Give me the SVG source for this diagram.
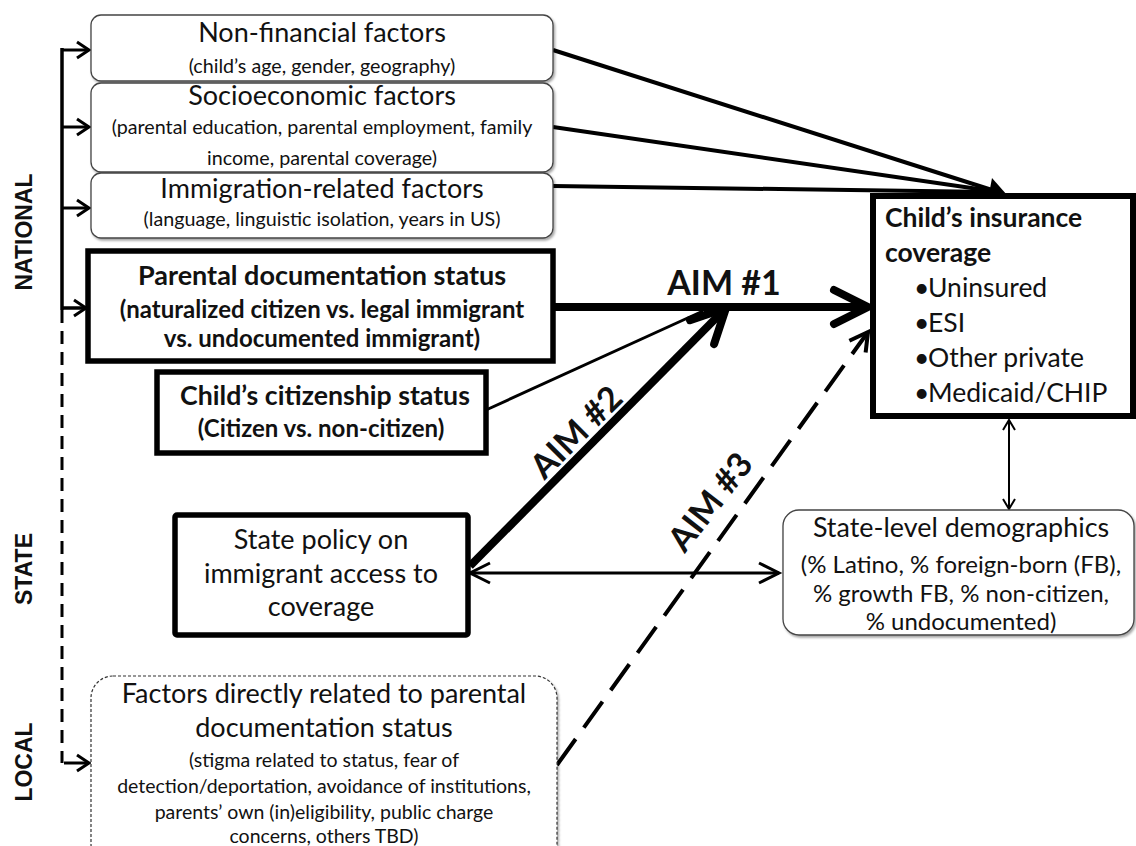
<svg xmlns="http://www.w3.org/2000/svg" width="1136" height="846" viewBox="0 0 1136 846">
<defs>
<style>
text{font-family:Lato,"Liberation Sans",sans-serif;fill:#111}
.t{font-size:27px;text-anchor:middle}
.s{font-size:19.7px;text-anchor:middle}
.b{font-weight:bold}
.lvl{font-family:"Liberation Sans",Arial,sans-serif;font-weight:bold;font-size:23px;text-anchor:middle;dominant-baseline:central}
.aim{font-weight:bold;font-size:34px;text-anchor:middle;dominant-baseline:central}
.soft{fill:#fff;stroke:#444;stroke-width:1.3;filter:url(#sh)}
.hard{fill:#fff;stroke:#000;stroke-width:5.5}
.ln{fill:none;stroke:#000}
.ins{font-size:26.5px}
</style>
<filter id="sh" x="-5%" y="-10%" width="110%" height="130%">
<feDropShadow dx="1.5" dy="2" stdDeviation="1.2" flood-color="#000" flood-opacity="0.35"/>
</filter>
<marker id="chev" viewBox="0 0 16 20" markerWidth="16" markerHeight="20" refX="14" refY="10" orient="auto-start-reverse" markerUnits="userSpaceOnUse" overflow="visible">
<path d="M2,2 L14,10 L2,18" fill="none" stroke="#000" stroke-width="3"/>
</marker>
<marker id="chevm" viewBox="0 0 24 24" markerWidth="24" markerHeight="24" refX="22" refY="12" orient="auto-start-reverse" markerUnits="userSpaceOnUse" overflow="visible">
<path d="M2,2 L22,12 L2,22" fill="none" stroke="#000" stroke-width="3"/>
</marker>
<marker id="chevs" viewBox="0 0 14 16" markerWidth="14" markerHeight="16" refX="12" refY="8" orient="auto-start-reverse" markerUnits="userSpaceOnUse" overflow="visible">
<path d="M2,2 L12,8 L2,14" fill="none" stroke="#000" stroke-width="2"/>
</marker>
<marker id="chevd" viewBox="0 0 24 28" markerWidth="24" markerHeight="28" refX="22" refY="14" orient="auto" markerUnits="userSpaceOnUse" overflow="visible">
<path d="M4,4 L22,14 L4,24" fill="none" stroke="#000" stroke-width="4"/>
</marker>
<marker id="chevb" viewBox="0 0 44 44" markerWidth="44" markerHeight="44" refX="40" refY="22" orient="auto" markerUnits="userSpaceOnUse" overflow="visible">
<path d="M6,5 L40,22 L6,39" fill="none" stroke="#000" stroke-width="8" stroke-linecap="round" stroke-linejoin="round"/>
</marker>
</defs>
<rect width="1136" height="846" fill="#fff"/>

<g id="levels">
<text class="lvl" transform="translate(24,232) rotate(-90)">NATIONAL</text>
<text class="lvl" transform="translate(24,569) rotate(-90)">STATE</text>
<text class="lvl" transform="translate(24,762) rotate(-90)">LOCAL</text>
</g>

<g id="connectors">
<path class="ln" d="M62,48 V310" stroke-width="3.5"/>
<path class="ln" d="M62,310 V763" stroke-width="3" stroke-dasharray="13 8"/>
<line class="ln" x1="62" y1="50" x2="89" y2="50" stroke-width="3" marker-end="url(#chev)"/>
<line class="ln" x1="62" y1="127" x2="89" y2="127" stroke-width="3" marker-end="url(#chev)"/>
<line class="ln" x1="62" y1="208" x2="89" y2="208" stroke-width="3" marker-end="url(#chev)"/>
<line class="ln" x1="62" y1="308" x2="86" y2="308" stroke-width="3.5" marker-end="url(#chev)"/>
<line class="ln" x1="64" y1="763" x2="89" y2="763" stroke-width="3" marker-end="url(#chev)"/>
<line class="ln" x1="553" y1="50" x2="992" y2="190" stroke-width="4"/>
<line class="ln" x1="553" y1="127" x2="992" y2="191" stroke-width="4"/>
<line class="ln" x1="553" y1="186" x2="992" y2="192" stroke-width="4"/>
<polygon points="992,178 1007,195 987,205" fill="#000"/>
<line class="ln" x1="553" y1="307" x2="868" y2="307" stroke-width="8" marker-end="url(#chevb)"/>
<line class="ln" x1="486" y1="410" x2="703" y2="311" stroke-width="3"/>
<line class="ln" x1="470" y1="566" x2="726" y2="308" stroke-width="8" marker-end="url(#chevb)"/>
<line class="ln" x1="470" y1="573" x2="779" y2="573" stroke-width="3" marker-start="url(#chevm)" marker-end="url(#chevm)"/>
<line class="ln" x1="1009" y1="420" x2="1009" y2="509" stroke-width="2" marker-start="url(#chevs)" marker-end="url(#chevs)"/>
<line class="ln" x1="557" y1="765" x2="868" y2="332" stroke-width="4" stroke-dasharray="32 14" marker-end="url(#chevd)"/>
<text class="aim" x="724" y="281">AIM #1</text>
<text class="aim" transform="translate(575,431) rotate(-45)">AIM #2</text>
<text class="aim" transform="translate(709,501) rotate(-52)">AIM #3</text>
</g>

<g id="nonfinancial">
<rect class="soft" x="91" y="15" width="462" height="66" rx="10"/>
<text class="t" x="322" y="42">Non-financial factors</text>
<text class="s" x="322" y="73">(child’s age, gender, geography)</text>
</g>

<g id="socioeconomic">
<rect class="soft" x="91" y="83" width="462" height="89" rx="10"/>
<text class="t" x="322" y="105">Socioeconomic factors</text>
<text class="s" x="322" y="134">(parental education, parental employment, family</text>
<text class="s" x="322" y="165">income, parental coverage)</text>
</g>

<g id="immigration">
<rect class="soft" x="91" y="173" width="462" height="65" rx="10"/>
<text class="t" x="322" y="198">Immigration-related factors</text>
<text class="s" x="322" y="226">(language, linguistic isolation, years in US)</text>
</g>

<g id="parental">
<rect class="hard" x="88" y="251" width="465" height="110"/>
<text class="t b" x="322" y="285" style="font-size:27px">Parental documentation status</text>
<text class="t b" x="322" y="318" style="font-size:24px">(naturalized citizen vs. legal immigrant</text>
<text class="t b" x="322" y="347" style="font-size:24px">vs. undocumented immigrant)</text>
</g>

<g id="childcitizenship">
<rect class="hard" x="157" y="372" width="329" height="81"/>
<text class="t b" x="325" y="405" style="font-size:26.7px">Child’s citizenship status</text>
<text class="t b" x="321" y="437" style="font-size:24px">(Citizen vs. non-citizen)</text>
</g>

<g id="statepolicy">
<rect class="hard" x="175" y="515" width="293" height="120" rx="2"/>
<text class="t" x="321" y="549">State policy on</text>
<text class="t" x="321" y="583">immigrant access to</text>
<text class="t" x="321" y="616">coverage</text>
</g>

<g id="localfactors">
<rect x="91" y="676" width="466" height="190" rx="22" fill="#fff" stroke="#333" stroke-width="1.2" stroke-dasharray="3 2" filter="url(#sh)"/>
<text class="t" x="324" y="703" style="font-size:27px">Factors directly related to parental</text>
<text class="t" x="324" y="737" style="font-size:27px">documentation status</text>
<text class="s" x="324" y="767" style="font-size:19.5px">(stigma related to status, fear of</text>
<text class="s" x="324" y="793" style="font-size:19.5px">detection/deportation, avoidance of institutions,</text>
<text class="s" x="324" y="819" style="font-size:19.5px">parents’ own (in)eligibility, public charge</text>
<text class="s" x="324" y="843" style="font-size:19.5px">concerns, others TBD)</text>
</g>

<g id="insurance">
<rect x="873" y="196" width="260" height="220" fill="#fff" stroke="#000" stroke-width="6"/>
<text x="885" y="227" class="b ins">Child’s insurance</text>
<text x="885" y="262" class="b ins">coverage</text>
<text class="ins"><tspan x="914" y="297">•</tspan><tspan x="928" y="297">Uninsured</tspan></text>
<text class="ins"><tspan x="914" y="332">•</tspan><tspan x="928" y="332">ESI</tspan></text>
<text class="ins"><tspan x="914" y="367">•</tspan><tspan x="928" y="367">Other private</tspan></text>
<text class="ins"><tspan x="914" y="402">•</tspan><tspan x="928" y="402">Medicaid/CHIP</tspan></text>
</g>

<g id="demographics">
<rect class="soft" x="783" y="510" width="351" height="125" rx="16"/>
<text class="t" x="961" y="537" style="font-size:26.9px">State-level demographics</text>
<text class="s" x="961" y="573" style="font-size:24px">(% Latino, % foreign-born (FB),</text>
<text class="s" x="961" y="602" style="font-size:24px">% growth FB, % non-citizen,</text>
<text class="s" x="961" y="630" style="font-size:24px">% undocumented)</text>
</g>
</svg>
